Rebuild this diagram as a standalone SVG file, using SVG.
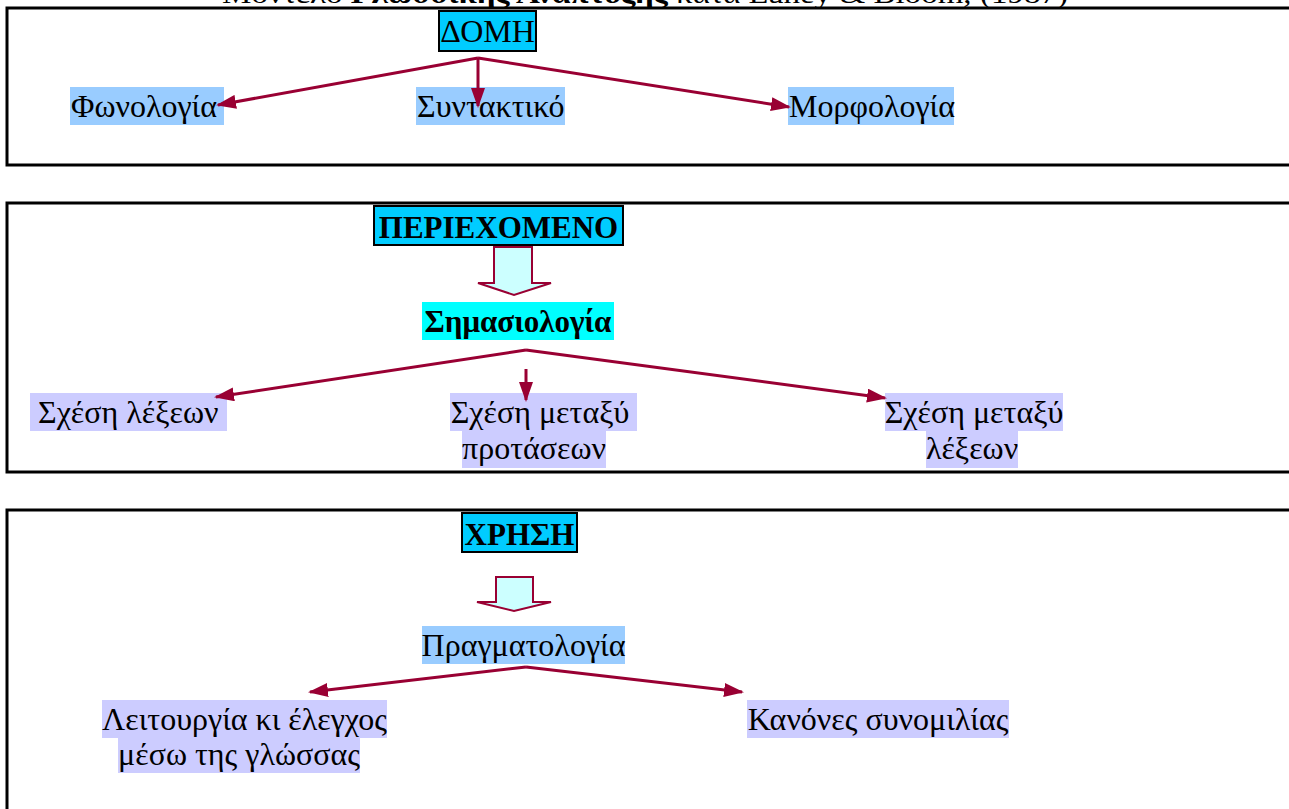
<svg xmlns="http://www.w3.org/2000/svg" width="1289" height="809" viewBox="0 0 1289 809">
<style>
.t{font-family:"Liberation Serif","Times New Roman",serif;font-size:32px;fill:#000}
.b{font-weight:bold;font-size:31px}
.frame{fill:none;stroke:#000;stroke-width:3}
.hdr{fill:#00CCFF;stroke:#000;stroke-width:2}
.c{stroke:#990033;stroke-width:3;fill:none}
.hollow{fill:#CCFFFF;stroke:#990033;stroke-width:2;stroke-linejoin:miter}
</style>
<defs>
<marker id="ah" markerUnits="userSpaceOnUse" markerWidth="20" markerHeight="14" refX="18" refY="7" orient="auto" viewBox="0 0 20 14">
<path d="M0,0 L20,7 L0,14 z" fill="#990033"/>
</marker>
</defs>
<rect width="1289" height="809" fill="#fff"/>
<text class="t" x="222" y="3" textLength="846" lengthAdjust="spacingAndGlyphs" style="font-size:27px">Μοντέλο <tspan style="font-weight:bold">Γλωσσικής Ανάπτυξης</tspan> κατά Lahey &amp; Bloom, (1987)</text>

<rect class="frame" x="7" y="8" width="1300" height="157"/>
<rect class="frame" x="7" y="203" width="1300" height="269"/>
<rect class="frame" x="7" y="510" width="1300" height="400"/>

<g id="domi">
<rect class="hdr" x="439" y="11" width="97" height="40"/>
<text class="t" x="487.5" y="42" text-anchor="middle">ΔΟΜΗ</text>
</g>
<g id="fonologia">
<rect x="70" y="87" width="154" height="38" fill="#99CCFF"/>
<text class="t" x="71" y="117">Φωνολογία</text>
</g>
<g id="syntaktiko">
<rect x="416" y="87" width="149" height="38" fill="#99CCFF"/>
<text class="t" x="417" y="117">Συντακτικό</text>
</g>
<g id="morfologia">
<rect x="788" y="87" width="166" height="38" fill="#99CCFF"/>
<text class="t" x="789" y="117">Μορφολογία</text>
</g>

<g id="periexomeno">
<rect class="hdr" x="374" y="206" width="249" height="39"/>
<text class="t b" x="498.5" y="238" text-anchor="middle">ΠΕΡΙΕΧΟΜΕΝΟ</text>
</g>
<g id="simasiologia">
<rect x="422" y="302" width="192" height="38" fill="#00FFFF"/>
<text class="t b" x="518" y="332" text-anchor="middle">Σημασιολογία</text>
</g>
<g id="sxesi-lexeon">
<rect x="30" y="393" width="197" height="38" fill="#CCCCFF"/>
<text class="t" x="38" y="423">Σχέση λέξεων</text>
</g>
<g id="sxesi-protaseon">
<rect x="450" y="393" width="187" height="38" fill="#CCCCFF"/>
<rect x="462" y="431" width="144" height="37" fill="#CCCCFF"/>
<text class="t" x="540" y="423" text-anchor="middle">Σχέση μεταξύ</text>
<text class="t" x="534" y="459" text-anchor="middle">προτάσεων</text>
</g>
<g id="sxesi-metaxy-lexeon">
<rect x="885" y="393" width="178" height="38" fill="#CCCCFF"/>
<rect x="926" y="431" width="92" height="37" fill="#CCCCFF"/>
<text class="t" x="974" y="423" text-anchor="middle">Σχέση μεταξύ</text>
<text class="t" x="972" y="459" text-anchor="middle">λέξεων</text>
</g>

<g id="xrisi">
<rect class="hdr" x="462" y="513" width="115" height="39"/>
<text class="t b" x="519.5" y="545" text-anchor="middle">ΧΡΗΣΗ</text>
</g>
<g id="pragmatologia">
<rect x="422" y="626" width="203" height="38" fill="#99CCFF"/>
<text class="t" x="523.5" y="656" text-anchor="middle">Πραγματολογία</text>
</g>
<g id="leitourgia">
<rect x="102" y="700" width="285" height="38" fill="#CCCCFF"/>
<rect x="118" y="738" width="242" height="35" fill="#CCCCFF"/>
<text class="t" x="244.5" y="730" text-anchor="middle">Λειτουργία κι έλεγχος</text>
<text class="t" x="239" y="765" text-anchor="middle">μέσω της γλώσσας</text>
</g>
<g id="kanones">
<rect x="747" y="700" width="262" height="38" fill="#CCCCFF"/>
<text class="t" x="878" y="730" text-anchor="middle">Κανόνες συνομιλίας</text>
</g>

<g id="connectors">
<line class="c" x1="478" y1="58" x2="218" y2="105" marker-end="url(#ah)"/>
<line class="c" x1="478" y1="58" x2="478" y2="106" marker-end="url(#ah)"/>
<line class="c" x1="478" y1="58" x2="789" y2="107" marker-end="url(#ah)"/>
<path class="hollow" d="M494,247 L532,247 L532,283 L551,283 L514,295 L478,283 L494,283 Z"/>
<line class="c" x1="526" y1="350" x2="216" y2="397" marker-end="url(#ah)"/>
<line class="c" x1="526" y1="369" x2="526" y2="400" marker-end="url(#ah)"/>
<line class="c" x1="526" y1="350" x2="885" y2="398" marker-end="url(#ah)"/>
<path class="hollow" d="M496,577 L533,577 L533,602 L551,602 L514,611 L477,602 L496,602 Z"/>
<line class="c" x1="526" y1="667" x2="310" y2="692" marker-end="url(#ah)"/>
<line class="c" x1="526" y1="667" x2="742" y2="692" marker-end="url(#ah)"/>
</g>
</svg>
